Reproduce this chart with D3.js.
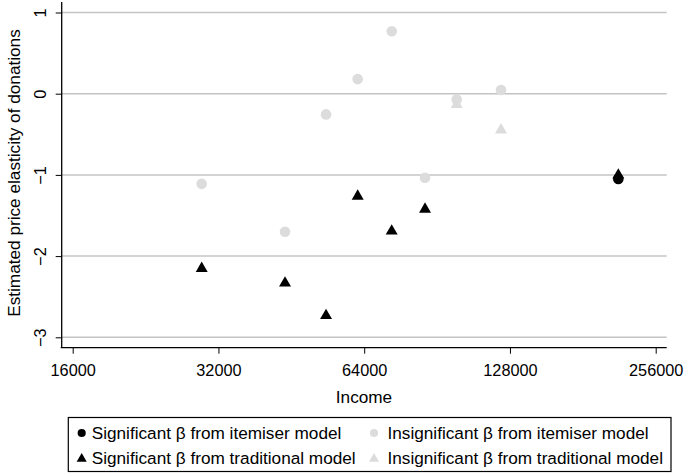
<!DOCTYPE html>
<html><head><meta charset="utf-8">
<script src="https://cdn.jsdelivr.net/npm/d3@7"></script>
<style>body{margin:0;background:#fff}svg{display:block}text{font-family:"Liberation Sans",Arial,sans-serif;fill:#000}</style>
</head><body><svg id="c" width="685" height="473"></svg>
<script>
const incomes = [29550, 43920, 53380, 62050, 72940, 85470, 99360, 122670, 214300];
const itemiserBeta = [-1.11, -1.70, -0.255, 0.18, 0.77, -1.035, -0.07, 0.045, -1.05];
const itemiserSig = [false, false, false, false, false, false, false, false, true];
const traditionalBeta = [-2.14, -2.32, -2.72, -1.25, -1.68, -1.41, -0.12, -0.435, -0.99];
const traditionalSig = [true, true, true, true, true, true, false, false, true];
const xTicks = [16000, 32000, 64000, 128000, 256000];
const yTicks = [-3, -2, -1, 0, 1];
const legendItems = [
  {label: "Significant \u03B2 from itemiser model", shape: "circle", sig: true},
  {label: "Insignificant \u03B2 from itemiser model", shape: "circle", sig: false},
  {label: "Significant \u03B2 from traditional model", shape: "triangle", sig: true},
  {label: "Insignificant \u03B2 from traditional model", shape: "triangle", sig: false}
];

const svg = d3.select("#c");
const pLeft = 61.7, pRight = 666.7, pTop = 2, pBottom = 347.7;
const x = d3.scaleLog().base(2).domain([16000, 256000]).range([72.7, 655.7]);
const y = d3.scaleLinear().domain([-3, 1]).range([337.3, 12.5]);
const black = "#000", grey = "#dcdcdc";

// gridlines
svg.append("g").selectAll("line").data(yTicks).join("line")
  .attr("x1", pLeft).attr("x2", pRight)
  .attr("y1", d => y(d)).attr("y2", d => y(d))
  .attr("stroke", "#c4c4c4").attr("stroke-width", 1.5);

// x axis
const xAxis = svg.append("g").attr("transform", `translate(0,${pBottom})`)
  .call(d3.axisBottom(x).tickValues(xTicks).tickFormat(d3.format("d")).tickSize(6).tickPadding(4));
xAxis.select(".domain").remove();
xAxis.selectAll(".tick line").attr("stroke", "#000").attr("stroke-width", 1);
xAxis.selectAll(".tick text").attr("font-size", 16.3).attr("dy", null).attr("y", 28)
  .style("font-family", '"Liberation Sans",Arial,sans-serif');
svg.append("line").attr("x1", pLeft - 1).attr("x2", pRight).attr("y1", pBottom).attr("y2", pBottom)
  .attr("stroke", "#000").attr("stroke-width", 1.3);

// y axis
const yAxis = svg.append("g").attr("transform", `translate(${pLeft},0)`)
  .call(d3.axisLeft(y).tickValues(yTicks).tickSize(6).tickFormat(d => d < 0 ? "\u2212" + Math.abs(d) : String(d)));
yAxis.select(".domain").remove();
yAxis.selectAll(".tick line").attr("stroke", "#000");
yAxis.selectAll(".tick text").attr("font-size", 16.3).attr("x", null).attr("dy", null)
  .attr("text-anchor", "middle")
  .attr("transform", "translate(-16,0) rotate(-90)")
  .style("font-family", '"Liberation Sans",Arial,sans-serif');
svg.append("line").attr("x1", pLeft).attr("x2", pLeft).attr("y1", pTop).attr("y2", pBottom)
  .attr("stroke", "#000").attr("stroke-width", 1.3);

// axis titles
svg.append("text").attr("x", 364).attr("y", 403).attr("text-anchor", "middle")
  .attr("font-size", 17.2).text("Income");
svg.append("text").attr("transform", "translate(19.5,173) rotate(-90)").attr("text-anchor", "middle")
  .attr("font-size", 17.2).text("Estimated price elasticity of donations");

// markers
const tri = d3.symbol().type(d3.symbolTriangle).size(62);
const circ = d3.symbol().type(d3.symbolCircle).size(88);
const triL = d3.symbol().type(d3.symbolTriangle).size(44);
const circL = d3.symbol().type(d3.symbolCircle).size(52);
const tradData = incomes.map((v, i) => ({x: v, y: traditionalBeta[i], sig: traditionalSig[i]}));
const itemData = incomes.map((v, i) => ({x: v, y: itemiserBeta[i], sig: itemiserSig[i]}));
const g = svg.append("g");
g.selectAll("path.t").data(tradData.filter(d => !d.sig)).join("path").attr("class", "t")
  .attr("d", tri).attr("fill", grey).attr("transform", d => `translate(${x(d.x)},${y(d.y) + 1})`);
g.selectAll("path.c").data(itemData.filter(d => !d.sig)).join("path").attr("class", "c")
  .attr("d", circ).attr("fill", grey).attr("transform", d => `translate(${x(d.x)},${y(d.y)})`);
g.selectAll("path.ts").data(tradData.filter(d => d.sig)).join("path").attr("class", "ts")
  .attr("d", tri).attr("fill", black).attr("transform", d => `translate(${x(d.x)},${y(d.y) + 1})`);
g.selectAll("path.cs").data(itemData.filter(d => d.sig)).join("path").attr("class", "cs")
  .attr("d", circ).attr("fill", black).attr("transform", d => `translate(${x(d.x)},${y(d.y)})`);

// legend
svg.append("rect").attr("x", 68.3).attr("y", 417.5).attr("width", 602.7).attr("height", 54)
  .attr("fill", "#fff").attr("stroke", "#000").attr("stroke-width", 1.2);
const colX = [81.7, 374], textX = [91.7, 387.5], rowY = [433, 457.8];
legendItems.forEach((it, i) => {
  const cx = colX[i % 2], cy = rowY[Math.floor(i / 2)];
  svg.append("path").attr("d", it.shape === "circle" ? circL : triL)
    .attr("fill", it.sig ? black : grey)
    .attr("transform", `translate(${cx},${cy + (it.shape === "circle" ? 0 : 1)})`);
  svg.append("text").attr("x", textX[i % 2]).attr("y", cy + 6).attr("font-size", 17.2).text(it.label);
});
</script></body></html>
